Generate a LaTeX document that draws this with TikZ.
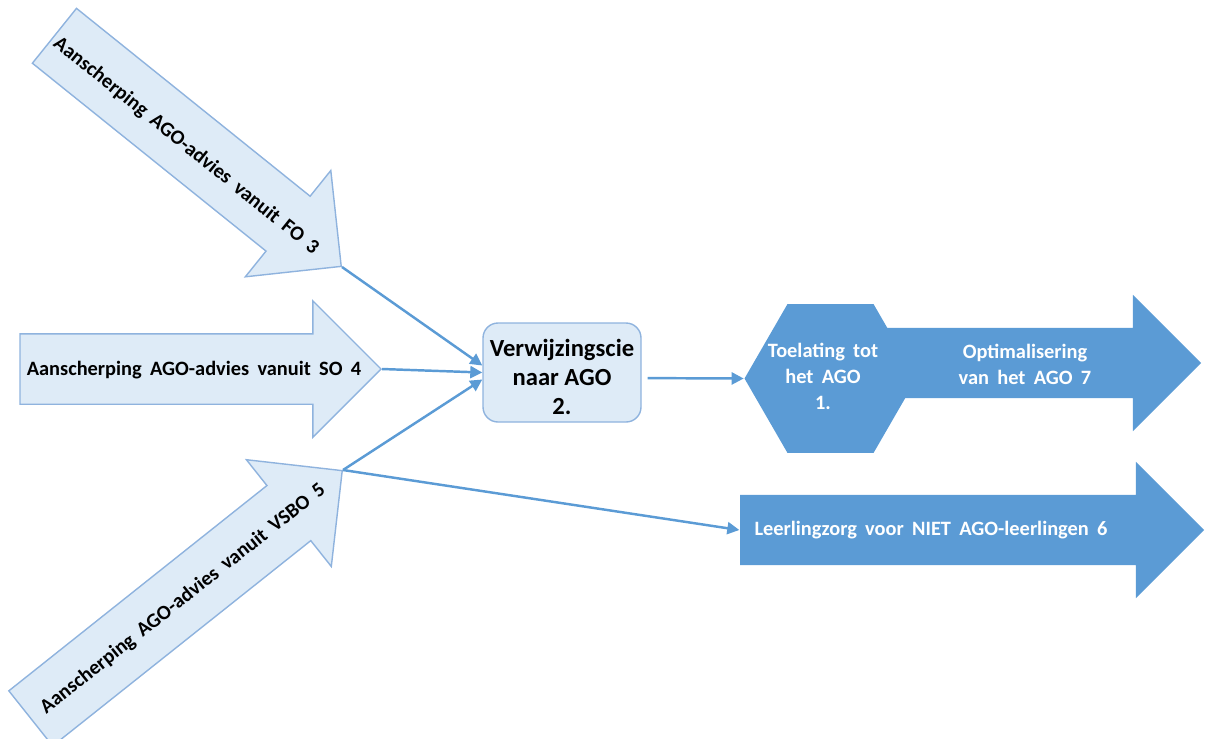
\documentclass[tikz,border=0pt]{standalone}
\usepackage{fontspec}
\setmainfont{Carlito}
\newfontfamily\ruimfont[WordSpace=1.8]{Carlito}
\usetikzlibrary{shapes.arrows,shapes.geometric,arrows.meta}

\definecolor{lichtblauw}{HTML}{DEEBF7}
\definecolor{randblauw}{HTML}{8FB3DE}
\definecolor{donkerblauw}{HTML}{5B9BD5}

\tikzset{
  pijl/.style={single arrow, single arrow head extend=0.33cm,
    inner xsep=0pt, inner ysep=0.345cm},
  advies/.style={pijl, draw=randblauw, fill=lichtblauw, line width=0.4pt},
  doel/.style={pijl, fill=donkerblauw},
  zwart/.style={inner sep=0pt, font=\ruimfont\fontsize{5.8}{7}\selectfont\bfseries},
  wit/.style={text=white, align=center, inner sep=0pt,
    font=\ruimfont\fontsize{5.8}{7.4}\selectfont\bfseries},
  verbind/.style={draw=donkerblauw, line width=0.7pt,
    -{Triangle[length=1.2mm,width=1.2mm]}}
}

\begin{document}
\begin{tikzpicture}
		\useasboundingbox (0,0) rectangle (12.05,7.38);
		\clip (0,0) rectangle (12.05,7.38);

		% instroom
		\node[advies, rotate=-38.8, minimum height=3.68cm, anchor=tip] (fo) at (3.42,4.71) {};
		\node[advies, minimum height=3.61cm, anchor=tip] (so) at (3.82,3.69) {};
		\node[advies, rotate=38.5, minimum height=3.98cm, anchor=tip] (vsbo) at (3.43,2.68) {};
		\node[zwart, rotate=-38.8] (folbl) at (1.86,5.92) {Aanscherping AGO-advies vanuit FO 3};
		\node[zwart] (solbl) at (1.94,3.68) {Aanscherping AGO-advies vanuit SO 4};
		\node[zwart, rotate=38.5] (vsbolbl) at (1.83,1.39) {Aanscherping AGO-advies vanuit VSBO 5};

		\node[rectangle, rounded corners=0.15cm, draw=randblauw, fill=lichtblauw, line width=0.4pt,
			minimum width=1.58cm, minimum height=0.99cm, inner sep=0pt, align=center,
			font=\fontsize{7}{8.2}\selectfont\bfseries] (vcie) at (5.62,3.655) {\rule{0pt}{7.4pt}Verwijzingscie\\naar AGO\\2.};

		% uitstroom
		\node[doel, minimum height=3.22cm, anchor=tip] (optpijl) at (12.02,3.75) {};
		\node[regular polygon, regular polygon sides=6, minimum size=1.72cm, inner sep=0pt,
			fill=donkerblauw] (toel) at (8.305,3.595) {};
		\node[wit] (toellbl) at (8.23,3.62) {Toelating tot\\het AGO\\1.};
		\node[wit] (opt) at (10.25,3.74) {Optimalisering\\van het AGO 7};
		\node[doel, minimum height=4.64cm, anchor=tip] (zorg) at (12.05,2.08) {};
		\node[wit] (zorglbl) at (9.31,2.08) {Leerlingzorg voor NIET AGO-leerlingen 6};

		\draw[verbind] (fo.tip) -- (vcie.175);
		\draw[verbind] (so.tip) -- (vcie.west);
		\draw[verbind] (vsbo.tip) -- (vcie.185);
		\draw[verbind, shorten <=1.7pt] (vcie.-4) -- (toel.west);
		\draw[verbind] (vsbo.tip) -- (zorg.tail);
\end{tikzpicture}
\end{document}
